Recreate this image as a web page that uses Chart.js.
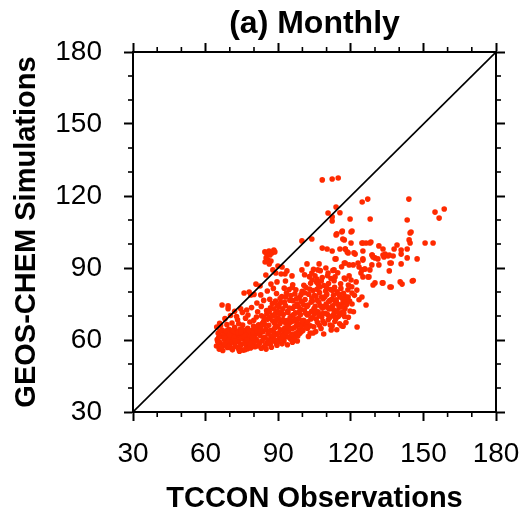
<!DOCTYPE html>
<html>
<head>
<meta charset="utf-8">
<script src="https://cdn.jsdelivr.net/npm/chart.js@4.4.1/dist/chart.umd.min.js"></script>
<style>
html,body{margin:0;padding:0;background:#fff;}
canvas{display:block;}
</style>
</head>
<body>
<canvas id="c" width="524" height="518"></canvas>
<script>
// ---- data (TCCON observation, GEOS-Chem simulation) ----
const chartTitle = "(a) Monthly";
const xTitle = "TCCON Observations";
const yTitle = "GEOS-CHEM Simulations";
const axisMin = 30, axisMax = 180, majorStep = 30, minorStep = 10;
const oneToOne = [30, 180];

const coreCluster = [
[64.5,57.5],[64.8,60.2],[65.2,62.8],[65.6,56.2],[66.0,58.9],[66.3,61.5],[66.8,64.1],[67.1,55.6],[67.4,57.8],[67.7,60.4],
[68.1,62.9],[68.4,59.1],[68.8,66.4],[69.0,56.9],[69.3,61.8],[69.6,64.5],[70.0,58.2],[70.2,60.9],[70.5,63.2],[70.9,67.1],
[71.1,55.9],[71.4,59.6],[71.7,62.1],[72.0,65.3],[72.3,57.4],[72.6,60.8],[72.9,63.7],[73.2,68.4],[73.5,56.5],[73.8,59.2],
[74.1,61.7],[74.4,64.6],[74.7,58.1],[75.0,62.8],[75.3,66.2],[75.6,55.8],[75.9,60.3],[76.2,63.5],[76.5,69.1],[76.8,57.6],
[77.1,61.2],[77.4,64.9],[77.7,59.0],[78.0,62.4],[78.3,67.5],[78.6,56.7],[78.9,60.6],[79.2,63.9],[79.5,58.3],[79.8,65.8],
[80.1,61.6],[80.4,57.2],[80.7,63.0],[81.0,69.6],[81.3,59.8],[81.6,62.7],[81.9,66.3],
[65.0,59.4],[65.9,63.6],[66.5,57.1],[67.2,62.0],[67.9,58.4],[68.6,63.8],[69.2,59.9],[69.9,62.2],[70.7,56.6],[71.3,64.0],
[71.9,58.7],[72.5,62.7],[73.1,60.0],[73.7,66.8],[74.3,57.4],[74.9,60.7],[75.5,64.2],[76.1,58.6],[76.7,62.2],[77.3,56.4],
[77.9,63.9],[78.5,61.4],[79.1,57.9],[79.7,62.9],[80.3,59.4],[80.9,64.7],[81.5,57.5],[66.2,66.0],[68.0,68.9],[70.3,70.2],
[72.8,69.8],[75.2,71.5],[77.5,70.4],[79.9,68.2],[74.0,55.3],[76.4,56.0],[69.5,57.3],[71.8,61.0],[73.4,63.1],[75.8,61.5],
[78.2,58.8],[80.6,60.5],[67.6,60.9],[65.4,61.0],[70.8,59.3],[72.2,59.7],[74.6,63.3],[77.0,60.0],[79.4,61.0],[81.2,63.6]
];
const midCluster = [
[82.2,58.4],[82.5,61.9],[82.8,65.2],[83.1,70.1],[83.4,59.6],[83.7,63.4],[84.0,67.8],[84.3,57.3],[84.6,61.1],[84.9,64.5],
[85.2,72.3],[85.5,59.0],[85.8,62.7],[86.1,66.1],[86.4,69.4],[86.7,58.2],[87.0,61.5],[87.3,64.0],[87.6,75.2],[87.9,60.3],
[88.2,63.2],[88.5,67.0],[88.8,71.0],[89.1,58.9],[89.4,62.4],[89.7,65.6],[90.0,69.2],[90.3,73.8],[90.6,60.8],[90.9,64.3],
[91.2,67.7],[91.5,78.1],[91.8,62.0],[92.1,70.6],[92.4,59.7],[92.7,65.0],[93.0,74.4],[93.3,61.4],[93.6,68.1],[93.9,72.0],
[94.2,63.8],[94.5,66.9],[94.8,76.6],[95.1,60.4],[95.4,70.0],[95.7,64.7],[96.0,73.2],[96.3,67.9],[96.6,62.5],[96.9,79.2],
[97.2,71.3],[97.5,65.9],[97.8,75.0],[98.1,61.7],[98.4,69.0],[98.7,77.7],[99.0,66.4],[99.3,72.8],[99.6,63.5],[99.9,80.3],
[83.0,56.6],[85.0,56.2],[87.2,57.0],[89.5,57.8],[91.6,58.4],[93.8,58.0],[95.9,59.1],[97.9,59.6],[83.9,60.8],[86.0,60.0],
[88.0,61.8],[90.2,62.9],[92.3,63.3],[94.4,61.2],[96.5,65.1],[98.6,64.2],[84.4,66.5],[86.5,63.8],[88.6,65.0],[90.7,66.8],
[92.8,67.4],[94.9,69.2],[97.0,68.6],[99.2,70.5],[85.6,68.6],[87.7,68.0],[89.8,71.9],[91.9,73.0],[94.0,71.5],[96.1,76.4],
[98.3,73.9],[86.8,73.4],[88.9,76.2],[91.0,75.5],[93.1,77.9],[95.2,78.5],[97.3,80.9],[99.5,76.0],[89.3,79.4],[92.5,81.6],
[84.8,58.0],[86.2,58.9],[87.5,59.6],[88.7,60.1],[90.0,59.3],[91.3,60.5],[92.2,61.9],[93.5,63.1],[94.7,64.9],[95.6,62.3],
[96.7,60.6],[97.7,63.0],[98.9,62.7],[99.7,65.9],[100.9,66.9],[102.1,64.9],[82.6,63.6],[83.5,67.0],[84.1,69.5],[85.3,70.9],
[86.3,71.9],[87.4,70.3],[88.3,73.0],[89.2,68.2],[90.5,71.0]
];
const bandCluster = [
[100.2,64.0],[100.5,68.2],[100.8,72.5],[101.1,76.9],[101.4,82.0],[101.7,66.3],[102.0,70.4],[102.3,74.6],[102.6,79.1],[102.9,86.4],
[103.2,62.9],[103.5,68.8],[103.8,72.0],[104.1,76.2],[104.4,80.6],[104.7,65.5],[105.0,70.9],[105.3,74.0],[105.6,78.3],[105.9,84.1],
[106.2,67.4],[106.5,71.8],[106.8,75.7],[107.1,79.8],[107.4,88.9],[107.7,64.8],[108.0,69.6],[108.3,73.3],[108.6,77.2],[108.9,82.7],
[109.2,66.9],[109.5,71.1],[109.8,75.0],[110.1,79.0],[110.4,86.8],[110.7,68.4],[111.0,72.9],[111.3,76.4],[111.6,81.0],[111.9,64.2],
[112.2,70.0],[112.5,74.3],[112.8,78.6],[113.1,84.7],[113.4,67.7],[113.7,72.2],[114.0,76.0],[114.3,80.1],[114.6,88.0],[114.9,69.9],
[115.2,73.6],[115.5,77.9],[115.8,83.4],[116.1,66.0],[116.4,71.5],[116.7,75.4],[117.0,79.5],[117.3,85.8],[117.6,73.1],[117.9,78.0],
[100.4,74.8],[101.3,71.2],[102.2,67.6],[103.0,81.2],[103.9,77.5],[104.8,73.1],[105.7,68.7],[106.6,83.0],[107.5,74.2],[108.4,71.0],
[109.3,78.0],[110.2,73.7],[111.1,69.3],[112.0,76.9],[112.9,72.6],[113.8,68.9],[114.7,74.9],[115.6,70.7],[116.5,77.3],[117.4,69.8],
[101.0,79.7],[104.0,85.0],[106.0,81.1],[108.2,86.0],[110.8,83.5],[113.3,82.0],[115.9,81.5],[102.5,61.5],[105.5,63.5],[108.8,62.5],
[111.5,66.2],[114.2,64.3],[116.8,65.7],[100.9,87.2],[104.6,89.5],[109.7,90.0],[112.6,89.0],[116.2,90.5],[103.3,65.9],[107.0,66.1],
[88.4,70.2],[89.6,74.5],[90.8,77.3],[91.4,71.4],[92.0,68.5],[92.6,75.8],[93.4,79.6],[93.7,65.8],[94.6,73.3],[95.3,67.5],
[95.8,81.9],[96.4,70.6],[96.8,74.1],[97.6,77.2],[98.0,66.9],[98.8,71.8],[99.4,78.9],[99.8,68.0],[100.6,82.8],[101.5,65.2],
[101.9,74.0],[102.7,70.9],[103.6,75.8],[104.3,69.4],[104.9,78.5],[105.4,72.2],[106.1,76.6],[106.9,70.1],[107.3,82.1],[107.9,77.9],
[108.5,67.8],[109.0,73.9],[109.6,80.4],[110.3,70.7],[110.9,76.0],[111.7,73.4],[112.4,80.7],[113.0,70.8],[113.6,75.4],[114.4,71.9],
[115.0,79.1],[115.4,66.8],[116.0,74.3],[116.9,71.0],[117.7,76.4],[118.3,74.8],[118.8,80.9],[119.5,76.2],[120.4,82.2],[121.5,78.6],
[122.5,80.8],[123.4,76.8],[121.1,71.8],[119.0,69.5],[118.0,67.3],[103.4,83.6],[105.2,86.8],[107.8,84.6],[110.0,81.9],[111.8,85.6]
];
const upperBand = [
[99.8,101.3],[103.9,102.1],[113.9,103.8],[116.5,105.4],[120.5,105.4],[117.3,101.7],[124.6,100.4],[126.3,100.4],[128.3,100.8],[128.8,95.4],
[133.7,94.6],[108.2,98.3],[110.2,97.9],[112.3,97.1],[115.5,97.9],[117.7,97.9],[118.9,96.3],[121.8,95.8],[113.5,93.8],[117.7,92.1],
[121.0,91.3],[123.0,92.1],[125.0,93.3],[125.8,89.6],[128.7,91.3],[124.2,87.9],[127.1,86.3],[130.0,83.8],[133.3,83.8],[101.9,91.7],
[106.9,91.7],[106.4,89.2],[110.6,87.9],[113.5,86.3],[117.7,85.4],[119.0,82.9],[106.0,85.4],[99.8,89.2],[103.9,87.9],[112.3,109.6]
];
const nearLineBlob = [
[84.5,96.7],[85.3,95.8],[86.2,97.1],[86.6,95.4],[87.4,96.3],[88.2,97.5],[85.0,94.2],[85.8,93.3],[87.0,92.9],[84.6,92.5],
[86.3,91.7],[88.6,96.7],[89.9,90.8],[91.6,90.4],[93.6,88.8],[87.8,89.2],[89.0,87.9],[84.9,87.1],[91.2,87.5],[92.8,87.5],
[95.7,86.7],[80.8,83.3],[82.5,82.5],[87.0,83.3],[89.5,84.2],[93.0,84.6],[96.0,83.0],[78.0,80.0],[80.0,79.0],[82.8,78.8],
[85.5,80.4],[88.0,81.5],[94.5,81.0],[75.9,79.6],[78.7,78.8],[81.2,75.4],[66.8,74.6],[69.3,74.2],[69.3,73.0],[65.8,67.0],
[64.6,65.4],[84.0,76.5],[86.5,77.0],[79.0,73.5],[83.0,74.0],[77.0,72.5],[81.5,71.8],[74.5,73.0],[72.0,72.0]
];
const highPoints = [
[108.2,126.7],[112.3,127.1],[114.8,127.5],[124.7,117.5],[127.0,118.7],[113.9,115.4],[110.6,112.9],[115.5,113.0],[112.3,111.3],[119.7,110.4],
[128.0,110.4]
];
const rightSparse = [
[144.0,118.7],[154.8,113.3],[158.6,114.6],[156.5,110.8],[143.3,110.0],[144.5,104.6],[144.9,105.0],[144.1,101.7],[144.5,100.4],[150.7,100.4],
[154.0,100.4],[139.1,99.6],[137.9,97.9],[140.8,97.5],[143.3,97.9],[140.8,95.8],[137.5,95.0],[135.4,95.0],[134.2,95.8],[143.3,94.2],
[147.4,93.8],[136.2,92.1],[136.2,82.1],[140.4,84.2],[141.2,83.3],[145.4,84.6],[145.8,84.8]
];
const bandEdge = [
[124.6,77.9],[126.3,74.6],[122.6,65.4],[112.3,65.8],[104.4,62.9],[119.7,72.1],[120.5,75.0],[118.9,77.9],[120.5,79.6],[116.3,73.8],
[117.1,71.3],[113.9,76.7],[111.4,69.6],[113.9,69.2]
];
const upperScatter = [
[114.2,104.2],[116.3,105.0],[116.7,102.1],[120.1,105.0],[120.1,100.4],[125.0,100.4],[127.9,100.4],[131.6,99.2],[133.3,97.9],[117.7,97.9],
[118.5,96.7],[121.3,96.3],[125.0,97.1],[128.8,95.4],[130.0,94.2],[133.3,95.4],[135.9,95.4],[131.2,93.8],[125.0,93.8],[129.2,94.6],
[136.7,92.1],[140.8,91.7],[117.3,92.1],[119.3,91.3],[123.4,90.4],[124.6,89.2],[125.8,89.6],[127.9,89.2],[127.5,86.3],[125.0,86.3],
[131.6,91.3],[135.9,88.8],[113.9,93.8],[113.1,89.2],[119.3,86.7],[120.1,85.0],[122.2,84.2],[129.2,82.9],[133.0,83.8],[136.7,82.1]
];

const allGroups = [coreCluster, midCluster, bandCluster, upperBand, nearLineBlob, highPoints, rightSparse, bandEdge, upperScatter];
const scatterPoints = [];
allGroups.forEach(g => g.forEach(p => scatterPoints.push({x: p[0], y: p[1]})));

// ---- styling ----
const FONT = "'Liberation Sans', Arial, Helvetica, sans-serif";
const BLACK = '#000000';

const minorTicks = {
  id: 'minorTicks',
  afterDraw(chart) {
    const ctx = chart.ctx;
    ctx.save();
    ctx.strokeStyle = BLACK;
    ctx.lineWidth = 1.6;
    const len = 5;
    ['x', 'x2', 'y', 'y2'].forEach(id => {
      const s = chart.scales[id];
      for (let v = s.min; v <= s.max + 1e-9; v += minorStep) {
        if (Math.abs((v - s.min) % majorStep) < 1e-9) continue;
        const p = s.getPixelForValue(v);
        ctx.beginPath();
        if (id === 'x') { ctx.moveTo(p, s.top); ctx.lineTo(p, s.top + len); }
        else if (id === 'x2') { ctx.moveTo(p, s.bottom); ctx.lineTo(p, s.bottom - len); }
        else if (id === 'y') { ctx.moveTo(s.right, p); ctx.lineTo(s.right - len, p); }
        else { ctx.moveTo(s.left, p); ctx.lineTo(s.left + len, p); }
        ctx.stroke();
      }
    });
    ctx.restore();
  }
};

function axis(pos, showLabels, extra) {
  const horiz = pos === 'top' || pos === 'bottom';
  return Object.assign({
    type: 'linear',
    position: pos,
    min: axisMin,
    max: axisMax,
    border: { display: true, color: BLACK, width: 2 },
    grid: { display: true, drawOnChartArea: false, drawTicks: true, tickLength: 9, tickWidth: 2, tickColor: BLACK, color: BLACK },
    ticks: {
      display: showLabels,
      stepSize: majorStep,
      color: BLACK,
      font: { family: FONT, size: 28 },
      padding: horiz ? 16 : 22,
      maxRotation: 0,
      autoSkip: false
    }
  }, extra);
}

function clearPad(s) { s.paddingLeft = 0; s.paddingRight = 0; s.paddingTop = 0; s.paddingBottom = 0; }

const cfg = {
  type: 'scatter',
  data: {
    datasets: [
      {
        type: 'line',
        data: [{x: oneToOne[0], y: oneToOne[0]}, {x: oneToOne[1], y: oneToOne[1]}],
        borderColor: BLACK,
        borderWidth: 1.6,
        pointRadius: 0,
        fill: false,
        xAxisID: 'x', yAxisID: 'y'
      },
      {
        data: scatterPoints,
        backgroundColor: '#ff2a00',
        borderWidth: 0,
        pointRadius: 2.8,
        pointHoverRadius: 2.8,
        xAxisID: 'x', yAxisID: 'y'
      }
    ]
  },
  options: {
    responsive: false,
    animation: false,
    devicePixelRatio: 1,
    layout: { padding: 0 },
    plugins: { legend: { display: false }, tooltip: { enabled: false }, title: { display: false } },
    scales: {
      x: axis('bottom', true, {
        title: { display: true, text: xTitle, color: BLACK, font: { family: FONT, size: 29, weight: 'bold' }, padding: { top: 0, bottom: 2 } },
        afterFit(s) { s.height = 106; clearPad(s); }
      }),
      y: axis('left', true, {
        title: { display: true, text: yTitle, color: BLACK, font: { family: FONT, size: 29, weight: 'bold' }, padding: { top: 10, bottom: 0 } },
        afterFit(s) { s.width = 133; clearPad(s); }
      }),
      x2: axis('top', false, {
        title: { display: true, text: chartTitle, color: BLACK, font: { family: FONT, size: 32, weight: 'bold' }, padding: { top: 5, bottom: 0 } },
        afterFit(s) { s.height = 52; clearPad(s); }
      }),
      y2: axis('right', false, {
        afterFit(s) { s.width = 28; clearPad(s); }
      })
    }
  },
  plugins: [minorTicks]
};

new Chart(document.getElementById('c'), cfg);
</script>
</body>
</html>
